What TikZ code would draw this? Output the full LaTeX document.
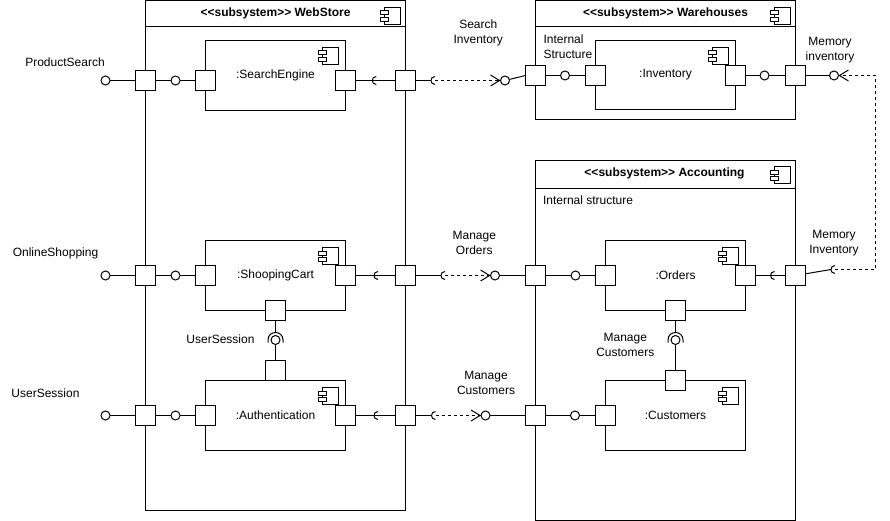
\documentclass[tikz,border=0pt]{standalone}
\usepackage{fontspec}
\newfontfamily\lsans{Liberation Sans}
\usetikzlibrary{arrows.meta}
% socket "(" opening to the right, centre (#1,#2), radius 4
\newcommand\sockL[2]{\draw (#1,#2-4) .. controls (#1-5.33,#2-4) and (#1-5.33,#2+4) .. (#1,#2+4);}
% socket opening downwards, centre (#1,#2), radius 7.5
\newcommand\sockT[2]{\draw (#1-7.5,#2+2.5) -- (#1-7.5,#2) .. controls (#1-7.5,#2-10) and (#1+7.5,#2-10) .. (#1+7.5,#2) -- (#1+7.5,#2+2.5);}
\tikzset{
  cicon/.pic={
    \draw[fill=white] (-16,0) rectangle (0,17);
    \draw[fill=white] (-20,3.5) rectangle (-12,7.5);
    \draw[fill=white] (-20,10) rectangle (-12,14);
  }
}
\begin{document}
\begin{tikzpicture}[x=1pt,y=-1pt,line width=1pt,
  font=\lsans\fontsize{12}{15}\selectfont,
  sub/.style={draw,fill=white,anchor=north west,inner sep=0,outer sep=0,minimum width=260},
  comp/.style={draw,fill=white,minimum width=140,minimum height=70,inner sep=0,outer sep=0},
  port/.style={draw,fill=white,minimum size=20,inner sep=0,outer sep=0},
  ball/.style={circle,draw,fill=white,minimum size=9,inner sep=0,outer sep=0},
  lbl/.style={inner sep=0,align=center},
  ttl/.style={inner sep=0,font=\lsans\bfseries\fontsize{12}{15}\selectfont},
  dep/.style={dash pattern=on 3pt off 3pt,-{Straight Barb[length=9pt,width=11pt]}}]
\useasboundingbox (0,0) rectangle (890,521);

% subsystems
\node[sub,minimum height=509.5] (webstore) at (145.5,0.5) {};
\node[sub,minimum height=119] (warehouses) at (535.5,0.5) {};
\node[sub,minimum height=359.5] (accounting) at (535.5,160.5) {};
\draw (145.5,26.5) -- (405.5,26.5);
\draw (535.5,26.5) -- (795.5,26.5);
\draw (535.5,188.5) -- (795.5,188.5);
\node[ttl] (t1) at (275.5,13.5) {<<subsystem>> WebStore};
\node[ttl] (t2) at (665.5,13.5) {<<subsystem>> Warehouses};
\node[ttl] (t3) at (664.5,173) {<<subsystem>> Accounting};
\pic at (400.5,7.5) {cicon};
\pic at (790.5,7.5) {cicon};
\pic at (790.5,167) {cicon};

% components
\node[comp] (se) at (275.5,75.5) {:SearchEngine};
\node[comp] (sc) at (275.5,275.5) {:ShoopingCart};
\node[comp] (au) at (275.5,415.5) {:Authentication};
\node[comp,minimum height=69] (inv) at (665.5,75) {:Inventory};
\node[comp] (ord) at (675.5,275.5) {:Orders};
\node[comp] (cus) at (675.5,415.5) {:Customers};
\pic at (338,47.5) {cicon};
\pic at (338,247.5) {cicon};
\pic at (338,387.5) {cicon};
\pic at (728,47.5) {cicon};
\pic at (738,247.5) {cicon};
\pic at (738,387.5) {cicon};

% ports
\node[port] (wsp1) at (145.5,80.5) {};
\node[port] (sep1) at (205.5,80.5) {};
\node[port] (sep2) at (345.5,80.5) {};
\node[port] (wsp2) at (405.5,80.5) {};
\node[port] (whp1) at (535.5,75.5) {};
\node[port] (invp1) at (595.5,75.5) {};
\node[port] (invp2) at (735.5,75.5) {};
\node[port] (whp2) at (795.5,75.5) {};
\node[port] (wsp3) at (145.5,275.5) {};
\node[port] (scp1) at (205.5,275.5) {};
\node[port] (scp2) at (345.5,275.5) {};
\node[port] (wsp4) at (405.5,275.5) {};
\node[port] (scp3) at (275.5,310.5) {};
\node[port] (acp1) at (535.5,275.5) {};
\node[port] (orp1) at (605.5,275.5) {};
\node[port] (orp2) at (745.5,275.5) {};
\node[port] (acp2) at (795.5,275.5) {};
\node[port] (orp3) at (675.5,310.5) {};
\node[port] (wsp5) at (145.5,415.5) {};
\node[port] (aup1) at (205.5,415.5) {};
\node[port] (aup2) at (345.5,415.5) {};
\node[port] (wsp6) at (405.5,415.5) {};
\node[port] (aup3) at (275.5,370.5) {};
\node[port] (acp3) at (535.5,415.5) {};
\node[port] (cup1) at (605.5,415.5) {};
\node[port] (cup2) at (675.5,380.5) {};

% balls
\node[ball] (lb1) at (105.5,80.5) {};
\node[ball] (lb2) at (105.5,275.5) {};
\node[ball] (lb3) at (105.5,415.5) {};
\node[ball] (b1a) at (175.5,80.5) {};
\node[ball] (b2a) at (175.5,275.5) {};
\node[ball] (b3a) at (175.5,415.5) {};
\node[ball] (b1x) at (505,80.5) {};
\node[ball] (b2x) at (495,275.5) {};
\node[ball] (b3x) at (485.5,415.5) {};
\node[ball] (b1w) at (565,75.5) {};
\node[ball] (b1v) at (764.5,75.5) {};
\node[ball] (bmem) at (834,75.5) {};
\node[ball] (b2b) at (575.5,275.5) {};
\node[ball] (b3b) at (575,415.5) {};
\node[ball] (ub) at (275.5,340) {};
\node[ball] (mb) at (675.5,340) {};

% socket coordinates
\coordinate (sk1) at (431,80.5);   \coordinate (sk1c) at (435,80.5);
\coordinate (sk2) at (441,275.5);  \coordinate (sk2c) at (445,275.5);
\coordinate (sk3) at (431.5,415.5);\coordinate (sk3c) at (435.5,415.5);
\coordinate (sk6) at (831,269.5);  \coordinate (sk6c) at (835,269.5);
\coordinate (c61) at (875.5,269.5);
\coordinate (c62) at (875.5,75.5);
\coordinate (usk) at (275.5,332.5);
\coordinate (msk) at (675.5,332.5);

% row 1
\draw (lb1) -- (wsp1);
\draw (wsp1) -- (b1a) -- (sep1);
\draw (sep2) -- (wsp2);
\sockL{376.3}{80.5}
\draw (wsp2) -- (sk1);
\sockL{435}{80.5}
\draw[dep] (sk1c) -- (b1x);
\draw (b1x) -- (whp1.west);
\draw (whp1) -- (b1w) -- (invp1);
\draw (invp2) -- (b1v) -- (whp2);
\draw (whp2) -- (bmem);
\draw[dep] (sk6c) -- (c61) -- (c62) -- (bmem);

% row 2
\draw (lb2) -- (wsp3);
\draw (wsp3) -- (b2a) -- (scp1);
\draw (scp2) -- (wsp4);
\sockL{378}{275.5}
\draw (wsp4) -- (sk2);
\sockL{445}{275.5}
\draw[dep] (sk2c) -- (b2x);
\draw (b2x) -- (acp1);
\draw (acp1) -- (b2b) -- (orp1);
\draw (orp2) -- (acp2);
\sockL{774.5}{275.5}
\draw (acp2) -- (sk6);
\sockL{835}{269.5}

% row 3
\draw (lb3) -- (wsp5);
\draw (wsp5) -- (b3a) -- (aup1);
\draw (aup2) -- (wsp6);
\sockL{378}{415.5}
\draw (wsp6) -- (sk3);
\sockL{435.5}{415.5}
\draw[dep] (sk3c) -- (b3x);
\draw (b3x) -- (acp3);
\draw (acp3) -- (b3b) -- (cup1);

% vertical assemblies
\draw (scp3) -- (usk);
\sockT{275.5}{340}
\draw (ub) -- (aup3);
\draw (orp3) -- (msk);
\sockT{675.5}{340}
\draw (mb) -- (cup2);

% labels
\node[lbl] (l1) at (65,62) {ProductSearch};
\node[lbl] (l2) at (55.5,253) {OnlineShopping};
\node[lbl] (l3) at (45.5,393) {UserSession};
\node[lbl] (l4) at (220.5,339.5) {UserSession};
\node[lbl] (l5) at (478.3,33.2) {Search\\Inventory};
\node[lbl,anchor=west,align=left] (l6) at (543,47) {Internal\\Structure};
\node[lbl] (l7) at (830,50.5) {Memory\\inventory};
\node[lbl] (l8) at (474.3,243.2) {Manage\\Orders};
\node[lbl] (l9) at (834,243.3) {Memory\\Inventory};
\node[lbl,anchor=west] (l10) at (542.5,200) {Internal structure};
\node[lbl] (l11) at (625.3,345) {Manage\\Customers};
\node[lbl] (l12) at (486,383.3) {Manage\\Customers};
\end{tikzpicture}
\end{document}
